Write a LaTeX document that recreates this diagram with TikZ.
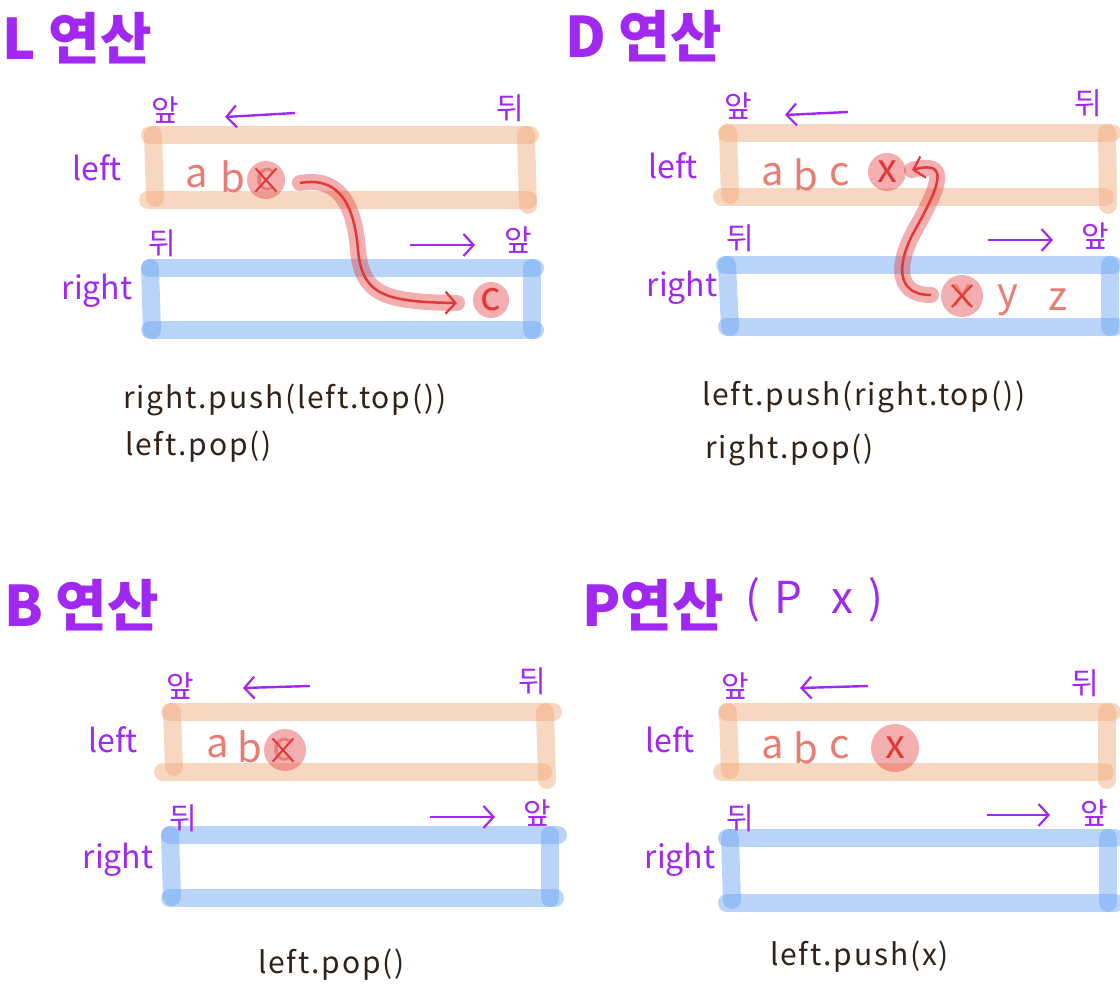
\documentclass[tikz,border=0pt]{standalone}
\usepackage{fontspec}
\setmainfont{Noto Sans CJK KR}
\newfontfamily\handfont{Noto Sans CJK KR}[LetterSpace=6]
\usetikzlibrary{arrows.meta}

\definecolor{hpurple}{RGB}{160,40,240}
\definecolor{qorange}{RGB}{240,172,125}
\definecolor{qblue}{RGB}{110,165,242}
\definecolor{mred}{RGB}{225,55,55}
\definecolor{itemred}{RGB}{232,125,115}
\definecolor{ink}{RGB}{50,35,25}

\begin{document}
\begin{tikzpicture}[
    x=1pt, y=-1pt,
    >={Straight Barb[length=10pt,width=22pt,line width=2.2pt]},
    title/.style={font=\fontsize{56}{58}\selectfont\bfseries, text=hpurple,
                  anchor=west, inner sep=0pt},
    tag/.style={font=\fontsize{30}{32}\selectfont, text=hpurple, inner sep=0pt},
    qname/.style={font=\fontsize{32}{34}\selectfont, text=hpurple, inner sep=0pt},
    item/.style={font=\fontsize{40}{42}\selectfont, text=itemred, inner sep=0pt},
    code/.style={font=\handfont\fontsize{30}{32}\selectfont, text=ink, anchor=west,
                 inner sep=0pt},
    lq/.style={draw=qorange, opacity=.48, line width=18pt, line cap=round},
    rq/.style={draw=qblue, opacity=.48, line width=18pt, line cap=round},
    dir/.style={draw=hpurple, line width=2.4pt, ->},
    hit/.style={circle, fill=mred, fill opacity=.4, text opacity=1,
                minimum size=40pt, inner sep=0pt},
    cross/.style={draw=mred, line width=2pt},
    trail/.style={draw=mred, opacity=.4, line width=16pt, line cap=round},
    move/.style={draw=mred, line width=2.5pt, ->}
  ]
    \useasboundingbox (0,0) rectangle (1120,1000);

    % L
    \node[title] (ltitle) at (2,38) {L 연산};
    \draw[lq] (150,135) -- (530,135);
    \draw[lq] (153,135) -- (155,198);
    \draw[lq] (148,200) -- (528,200);
    \draw[lq] (526,135) -- (528,205);
    \draw[rq] (150,268) -- (535,268);
    \draw[rq] (150,268) -- (152,330);
    \draw[rq] (150,330) -- (535,330);
    \draw[rq] (532,268) -- (532,330);
    \node[tag] (lfront) at (165,110) {앞};
    \node[tag] (lback) at (510,108) {뒤};
    \node[tag] (rback) at (162,243) {뒤};
    \node[tag] (rfront) at (518,240) {앞};
    \node[qname] (lname) at (97,168) {left};
    \node[qname] (rname) at (97,291) {right};
    \coordinate (ldir1) at (295,113);
    \coordinate (ldir2) at (225,117);
    \coordinate (rdir1) at (410,245);
    \coordinate (rdir2) at (475,245);
    \draw[dir] (ldir1) -- (ldir2);
    \draw[dir] (rdir1) -- (rdir2);
    \node[item] (la) at (197,177) {a};
    \node[item] (lb) at (233,177) {b};
    \node[hit, minimum size=38pt] (lhit) at (266,180) {};
    \node[item] (lc) at (266,180) {c};
    \draw[cross] (lc.south west) -- (lc.north east);
    \draw[cross] (lc.north west) -- (lc.south east);
    \node[hit, item, text=mred, minimum size=36pt] (rc) at (491,300) {c};
    \coordinate (lmove1) at (300,183);
    \coordinate (lmove2) at (457,303);
    \draw[trail] (lmove1) .. controls (345,175) and (355,215) .. (358,250)
      .. controls (362,295) and (385,302) .. (lmove2);
    \draw[move] (lmove1) .. controls (345,175) and (355,215) .. (358,250)
      .. controls (362,295) and (385,302) .. (lmove2);
    \node[code] (lcode1) at (123,400) {right.push(left.top())};
    \node[code] (lcode2) at (125,447) {left.pop()};

    % D
    \node[title] (dtitle) at (565,36) {D 연산};
    \draw[lq] (727,133) -- (1112,133);
    \draw[lq] (728,133) -- (730,195);
    \draw[lq] (722,197) -- (1105,197);
    \draw[lq] (1107,133) -- (1108,205);
    \draw[rq] (725,265) -- (1113,265);
    \draw[rq] (727,265) -- (730,327);
    \draw[rq] (727,327) -- (1115,327);
    \draw[rq] (1110,265) -- (1110,327);
    \node[tag] (dlfront) at (738,106) {앞};
    \node[tag] (dlback) at (1088,103) {뒤};
    \node[tag] (drback) at (740,238) {뒤};
    \node[tag] (drfront) at (1095,236) {앞};
    \node[qname] (dlname) at (673,166) {left};
    \node[qname] (drname) at (682,288) {right};
    \coordinate (dldir1) at (848,112);
    \coordinate (dldir2) at (785,115);
    \coordinate (drdir1) at (988,240);
    \coordinate (drdir2) at (1053,240);
    \draw[dir] (dldir1) -- (dldir2);
    \draw[dir] (drdir1) -- (drdir2);
    \node[item] (da) at (773,175) {a};
    \node[item] (db) at (806,175) {b};
    \node[item] (dc) at (840,175) {c};
    \node[hit, item, text=mred, minimum size=38pt] (dlx) at (887,172) {x};
    \node[hit, minimum size=42pt] (drhit) at (962,296) {};
    \node[item] (drx) at (962,296) {x};
    \draw[cross] (drx.south west) -- (drx.north east);
    \draw[cross] (drx.north west) -- (drx.south east);
    \node[item] (dy) at (1008,300) {y};
    \node[item] (dz) at (1058,300) {z};
    \coordinate (dmove1) at (931,295);
    \coordinate (dmove2) at (912,170);
    \draw[trail] (dmove1) .. controls (893,295) and (898,260) .. (915,230)
      .. controls (940,185) and (950,160) .. (dmove2);
    \draw[move] (dmove1) .. controls (893,295) and (898,260) .. (915,230)
      .. controls (940,185) and (950,160) .. (dmove2);
    \node[code] (dcode1) at (702,397) {left.push(right.top())};
    \node[code] (dcode2) at (705,450) {right.pop()};

    % B
    \node[title] (btitle) at (4,605) {B 연산};
    \draw[lq] (170,712) -- (553,712);
    \draw[lq] (172,712) -- (174,767);
    \draw[lq] (163,772) -- (543,772);
    \draw[lq] (545,712) -- (547,780);
    \draw[rq] (170,835) -- (558,835);
    \draw[rq] (170,835) -- (172,897);
    \draw[rq] (170,898) -- (555,898);
    \draw[rq] (550,835) -- (550,898);
    \node[tag] (blfront) at (180,686) {앞};
    \node[tag] (blback) at (532,681) {뒤};
    \node[tag] (brback) at (183,818) {뒤};
    \node[tag] (brfront) at (537,813) {앞};
    \node[qname] (blname) at (113,740) {left};
    \node[qname] (brname) at (118,860) {right};
    \coordinate (bldir1) at (310,686);
    \coordinate (bldir2) at (243,688);
    \coordinate (brdir1) at (430,817);
    \coordinate (brdir2) at (495,817);
    \draw[dir] (bldir1) -- (bldir2);
    \draw[dir] (brdir1) -- (brdir2);
    \node[item] (ba) at (218,747) {a};
    \node[item] (bb) at (250,747) {b};
    \node[hit, minimum size=42pt] (bhit) at (285,750) {};
    \node[item] (bc) at (283,750) {c};
    \draw[cross] (bc.south west) -- (bc.north east);
    \draw[cross] (bc.north west) -- (bc.south east);
    \node[code] (bcode) at (258,965) {left.pop()};

    % P
    \node[title] (ptitle) at (582,605) {P연산};
    \node[qname, font=\fontsize{44}{46}\selectfont, anchor=west]
      (parg) at (745,600) {(\,\,P\,\,\,\,x\,\,)};
    \draw[lq] (727,712) -- (1112,712);
    \draw[lq] (728,712) -- (730,770);
    \draw[lq] (722,772) -- (1105,772);
    \draw[lq] (1107,712) -- (1107,780);
    \draw[rq] (727,838) -- (1115,838);
    \draw[rq] (730,838) -- (732,900);
    \draw[rq] (727,903) -- (1115,903);
    \draw[rq] (1108,838) -- (1108,903);
    \node[tag] (plfront) at (735,686) {앞};
    \node[tag] (plback) at (1085,683) {뒤};
    \node[tag] (prback) at (740,818) {뒤};
    \node[tag] (prfront) at (1094,813) {앞};
    \node[qname] (plname) at (670,740) {left};
    \node[qname] (prname) at (680,860) {right};
    \coordinate (pldir1) at (868,686);
    \coordinate (pldir2) at (800,688);
    \coordinate (prdir1) at (987,815);
    \coordinate (prdir2) at (1050,815);
    \draw[dir] (pldir1) -- (pldir2);
    \draw[dir] (prdir1) -- (prdir2);
    \node[item] (pa) at (773,748) {a};
    \node[item] (pb) at (806,748) {b};
    \node[item] (pc) at (840,748) {c};
    \node[hit, item, text=mred, minimum size=48pt] (px) at (895,748) {x};
    \node[code] (pcode) at (770,957) {left.push(x)};
  \end{tikzpicture}
\end{document}
